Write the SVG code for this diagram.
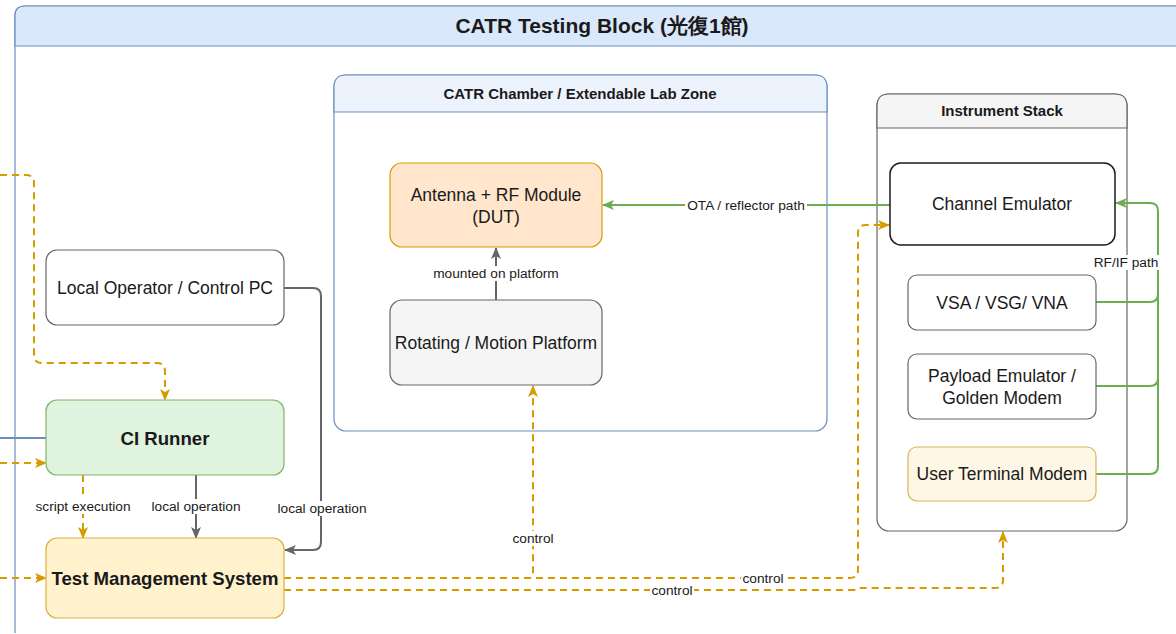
<svg xmlns="http://www.w3.org/2000/svg" width="1176" height="634" viewBox="0 0 1176 634">
  <style>
    text { font-family: "Liberation Sans", Arial, sans-serif; fill: #1a1a1a; }
    .node { font-size: 17.5px; text-anchor: middle; }
    .bold { font-weight: bold; }
    .nodeb { font-size: 18.6px; font-weight: bold; text-anchor: middle; }
    .lbl { font-size: 13.7px; text-anchor: middle; }
    .lblbg { fill: #ffffff; }
    .ctl { fill: none; stroke: #d79b00; stroke-width: 2; stroke-dasharray: 7 5; }
    .rf { fill: none; stroke: #6aae4f; stroke-width: 2; }
    .op { fill: none; stroke: #666666; stroke-width: 2; }
  </style>
  <defs>
    <marker id="arrOrange" viewBox="0 0 12 10" refX="11" refY="5" markerWidth="12" markerHeight="10" markerUnits="userSpaceOnUse" orient="auto">
      <path d="M0,0 L12,5 L0,10 L3,5 z" fill="#d79b00"/>
    </marker>
    <marker id="arrGreen" viewBox="0 0 12 10" refX="11" refY="5" markerWidth="12" markerHeight="10" markerUnits="userSpaceOnUse" orient="auto">
      <path d="M0,0 L12,5 L0,10 L3,5 z" fill="#6aae4f"/>
    </marker>
    <marker id="arrGray" viewBox="0 0 12 10" refX="11" refY="5" markerWidth="12" markerHeight="10" markerUnits="userSpaceOnUse" orient="auto">
      <path d="M0,0 L12,5 L0,10 L3,5 z" fill="#666666"/>
    </marker>
  </defs>

  <rect width="1176" height="634" fill="#ffffff"/>

  <!-- Outer block container -->
  <g id="catr-testing-block">
    <path d="M15,633 V16 Q15,6 25,6 H1179 Q1189,6 1189,16 V633" fill="#ffffff" stroke="#6c8ebf" stroke-width="1.2"/>
    <path d="M15,46 V16 Q15,6 25,6 H1179 Q1189,6 1189,16 V46 Z" fill="#dae8fc" stroke="#6c8ebf" stroke-width="1.2"/>
    <text x="602" y="33" class="bold" font-size="21" text-anchor="middle" font-family="'Liberation Sans', 'Noto Sans CJK TC', sans-serif">CATR Testing Block (光復1館)</text>
  </g>

  <!-- Chamber container -->
  <g id="catr-chamber">
    <rect x="334" y="75" width="493" height="356" rx="12" fill="#ffffff" stroke="#6c8ebf" stroke-width="1.2"/>
    <path d="M334,112 V87 Q334,75 346,75 H815 Q827,75 827,87 V112 Z" fill="#edf3fd" stroke="#6c8ebf" stroke-width="1.2"/>
    <text x="580" y="98.5" class="bold" font-size="15" text-anchor="middle">CATR Chamber / Extendable Lab Zone</text>
  </g>

  <!-- Instrument stack container -->
  <g id="instrument-stack">
    <rect x="877" y="94" width="250" height="437" rx="12" fill="#ffffff" stroke="#666666" stroke-width="1.2"/>
    <path d="M877,128 V106 Q877,94 889,94 H1115 Q1127,94 1127,106 V128 Z" fill="#f5f5f5" stroke="#666666" stroke-width="1.2"/>
    <text x="1002" y="115.5" class="bold" font-size="15" text-anchor="middle">Instrument Stack</text>
  </g>

  <!-- Connectors -->
  <g id="connectors">
    <!-- external feeds entering from the left -->
    <path class="ctl" d="M0,175 H26 Q34,175 34,183 V355 Q34,363 42,363 H157 Q165,363 165,371 V400" marker-end="url(#arrOrange)"/>
    <line x1="0" y1="438" x2="46" y2="438" stroke="#6c8ebf" stroke-width="2"/>
    <path class="ctl" d="M0,463 H46" marker-end="url(#arrOrange)"/>
    <path class="ctl" d="M0,578 H46" marker-end="url(#arrOrange)"/>

    <!-- CI Runner to TMS -->
    <path class="ctl" d="M83,475 V538" marker-end="url(#arrOrange)"/>
    <path class="op" d="M196,475 V538" marker-end="url(#arrGray)"/>

    <!-- Local operator to TMS -->
    <path class="op" d="M284,288 H313 Q321,288 321,296 V542 Q321,550 313,550 H285" marker-end="url(#arrGray)"/>

    <!-- platform holds DUT -->
    <path class="op" d="M496,300 V248" marker-end="url(#arrGray)"/>

    <!-- OTA path -->
    <path class="rf" d="M890,205 H603" marker-end="url(#arrGreen)"/>

    <!-- RF/IF paths into channel emulator -->
    <path class="rf" d="M1096,386 H1150 Q1158,386 1158,378 V211"/>
    <path class="rf" d="M1096,474 H1150 Q1158,474 1158,466 V211"/>
    <path class="rf" d="M1096,302 H1150 Q1158,302 1158,294 V211 Q1158,203 1150,203 H1116" marker-end="url(#arrGreen)"/>

    <!-- control lines from TMS -->
    <path class="ctl" d="M284,578 H529 Q533,578 533,574 V386" marker-end="url(#arrOrange)"/>
    <path class="ctl" d="M284,578 H850 Q858,578 858,570 V233 Q858,225 866,225 H889" marker-end="url(#arrOrange)"/>
    <path class="ctl" d="M284,590 H853 Q857,590 859,588 H995 Q1003,588 1003,580 V532" marker-end="url(#arrOrange)"/>
  </g>

  <!-- Connector labels -->
  <g id="connector-labels">
    <rect class="lblbg" x="431" y="266" width="130" height="15"/>
    <text class="lbl" x="496" y="278">mounted on platform</text>
    <rect class="lblbg" x="685" y="198" width="122" height="15"/>
    <text class="lbl" x="746" y="210">OTA / reflector path</text>
    <rect class="lblbg" x="1125" y="255" width="70" height="15"/>
    <text class="lbl" x="1126" y="267" text-anchor="start">RF/IF path</text>
    <rect class="lblbg" x="34" y="499" width="99" height="15"/>
    <text class="lbl" x="83" y="511">script execution</text>
    <rect class="lblbg" x="150" y="499" width="93" height="15"/>
    <text class="lbl" x="196" y="511">local operation</text>
    <rect class="lblbg" x="276" y="501" width="93" height="15"/>
    <text class="lbl" x="322" y="513">local operation</text>
    <rect class="lblbg" x="511" y="531" width="44" height="15"/>
    <text class="lbl" x="533" y="543">control</text>
    <rect class="lblbg" x="741" y="571" width="44" height="15"/>
    <text class="lbl" x="763" y="583">control</text>
    <rect class="lblbg" x="650" y="583" width="44" height="15"/>
    <text class="lbl" x="672" y="595">control</text>
  </g>

  <!-- Nodes -->
  <g id="local-operator">
    <rect x="46" y="250" width="238" height="75" rx="11" fill="#ffffff" stroke="#666666" stroke-width="1.2"/>
    <text class="node" x="165" y="293.5">Local Operator / Control PC</text>
  </g>
  <g id="ci-runner">
    <rect x="46" y="400" width="238" height="75" rx="11" fill="#e0f3de" stroke="#82b366" stroke-width="1.2"/>
    <text class="nodeb" x="165" y="444.5">CI Runner</text>
  </g>
  <g id="test-management-system">
    <rect x="46" y="538" width="238" height="80" rx="11" fill="#fff2cc" stroke="#dcb040" stroke-width="1.2"/>
    <text class="nodeb" x="165" y="584.5">Test Management System</text>
  </g>
  <g id="antenna-rf-module">
    <rect x="390" y="163" width="212" height="84" rx="12" fill="#ffe6cc" stroke="#d79b00" stroke-width="1.2"/>
    <text class="node" x="496" y="201">Antenna + RF Module</text>
    <text class="node" x="496" y="223">(DUT)</text>
  </g>
  <g id="motion-platform">
    <rect x="390" y="300" width="212" height="85" rx="12" fill="#f5f5f5" stroke="#666666" stroke-width="1.2"/>
    <text class="node" x="496" y="348.5">Rotating / Motion Platform</text>
  </g>
  <g id="channel-emulator">
    <rect x="890" y="163" width="225" height="82" rx="11" fill="#ffffff" stroke="#1a1a1a" stroke-width="1.5"/>
    <text class="node" x="1002" y="209.5">Channel Emulator</text>
  </g>
  <g id="vsa-vsg-vna">
    <rect x="908" y="275" width="188" height="55" rx="9" fill="#ffffff" stroke="#666666" stroke-width="1.2"/>
    <text class="node" x="1002" y="308.5">VSA / VSG/ VNA</text>
  </g>
  <g id="payload-emulator">
    <rect x="908" y="354" width="188" height="65" rx="9" fill="#ffffff" stroke="#666666" stroke-width="1.2"/>
    <text class="node" x="1002" y="382">Payload Emulator /</text>
    <text class="node" x="1002" y="403.5">Golden Modem</text>
  </g>
  <g id="user-terminal-modem">
    <rect x="908" y="447" width="188" height="54" rx="9" fill="#fff7e6" stroke="#d6b656" stroke-width="1.2"/>
    <text class="node" x="1002" y="480">User Terminal Modem</text>
  </g>
</svg>
